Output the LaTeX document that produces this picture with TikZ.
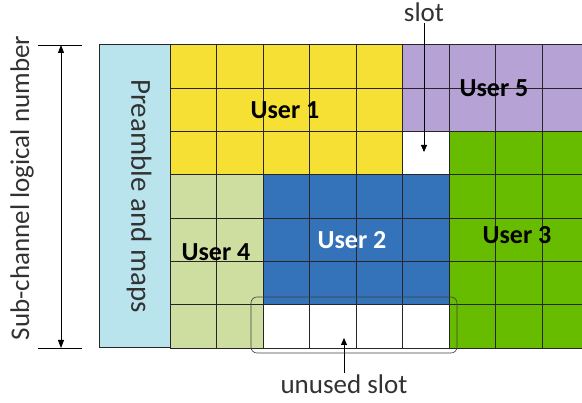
\documentclass[tikz,border=0pt]{standalone}
\usepackage{fontspec}
\setmainfont{Carlito}
\usetikzlibrary{arrows.meta}
\definecolor{cPre}{RGB}{185,228,238}
\definecolor{cU1}{RGB}{246,224,52}
\definecolor{cU5}{RGB}{182,162,212}
\definecolor{cU3}{RGB}{104,188,0}
\definecolor{cU4}{RGB}{206,222,160}
\definecolor{cU2}{RGB}{52,114,186}
\definecolor{cTxt}{RGB}{50,50,50}
\begin{document}
\begin{tikzpicture}[x=1pt,y=-1pt,semithick]
    \tikzset{usr/.style={font=\fontsize{26}{28}\selectfont\bfseries, inner sep=0pt},
             note/.style={font=\fontsize{27}{29}\selectfont, text=cTxt, inner sep=1pt},
             cell/.style={draw=black!85, line width=1pt}};
    \useasboundingbox (0,0) rectangle (582,403);
    % areas
    \fill[cPre] (99,45) rectangle (170,348);
    \fill[cU1] (170,45) rectangle (402.5,174.9);
    \fill[cU5] (402.5,45) rectangle (582,131.6);
    \fill[white] (402.5,131.6) rectangle (449,174.9);
    \fill[cU3] (449,131.6) rectangle (582,348);
    \fill[cU4] (170,174.9) rectangle (263,348);
    \fill[cU2] (263,174.9) rectangle (449,304.8);
    \fill[white] (263,304.8) rectangle (449,348);
    % slots
    \foreach \i in {0,...,8}
      \draw[cell] ({170+46.5*\i},45) -- ({170+46.5*\i},348);
    \foreach \j in {0,...,7}
      \draw[cell] (170,{45+43.3*\j}) -- (582,{45+43.3*\j});
    \draw[cell] (170,45) -- (99,45) -- (99,348) -- (170,348);
    % labels
    \node[usr] (u1) at (285,110) {User 1};
    \node[usr] (u5) at (494,88) {User 5};
    \node[usr] (u3) at (517,235) {User 3};
    \node[usr, text=white] (u2) at (352,240) {User 2};
    \node[usr] (u4) at (216,252) {User 4};
    \node[note, font=\fontsize{29}{31}\selectfont, rotate=-90] (pre) at (139,196) {Preamble and maps};
    \node[note, rotate=90] (sub) at (22,188) {Sub-channel logical number};
    % notes
    \node[note] (slot) at (424,12) {slot};
    \coordinate (slotend) at (424,152);
    \draw[-{Triangle[length=7pt,width=6pt]}, thick] (slot) -- (slotend);
    \node[note] (unused) at (344,384) {unused slot};
    \coordinate (unusedend) at (344,338);
    \draw[-{Triangle[length=7pt,width=6pt]}, thick] (unused) -- (unusedend);
    \draw[black!75, rounded corners=6pt] (251,297) rectangle (457,353);
    % dimension
    \coordinate (dtop) at (61,45);
    \coordinate (dbot) at (61,348);
    \draw[thick] (38,45) -- (82,45);
    \draw[thick] (38,348) -- (82,348);
    \draw[{Triangle[length=8pt,width=6pt]}-{Triangle[length=8pt,width=6pt]}, thick] (dtop) -- (dbot);
\end{tikzpicture}
\end{document}
